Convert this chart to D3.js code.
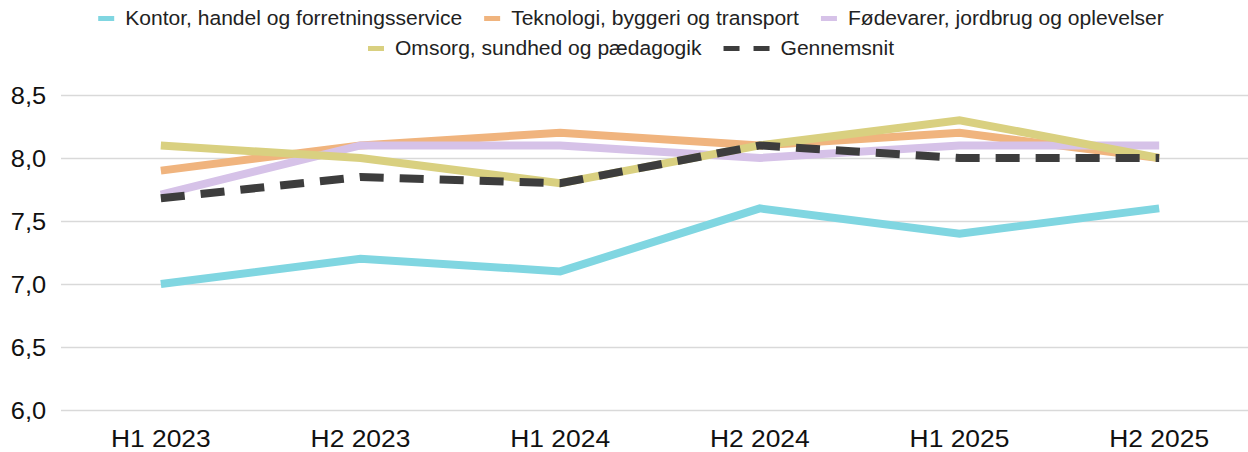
<!DOCTYPE html>
<html><head><meta charset="utf-8">
<script src="https://cdn.jsdelivr.net/npm/d3@7"></script>
<style>html,body{margin:0;padding:0;background:#fff;}svg{display:block;}</style>
</head><body>
<svg id="chart" width="1248" height="452"></svg>
<script>
const categories = ["H1 2023","H2 2023","H1 2024","H2 2024","H1 2025","H2 2025"];
const seriesNames = ["Kontor, handel og forretningsservice","Teknologi, byggeri og transport","Fødevarer, jordbrug og oplevelser","Omsorg, sundhed og pædagogik","Gennemsnit"];
const kontor = [7.0, 7.2, 7.1, 7.6, 7.4, 7.6];
const teknologi = [7.9, 8.1, 8.2, 8.1, 8.2, 8.0];
const foedevarer = [7.71, 8.1, 8.1, 8.0, 8.1, 8.1];
const omsorg = [8.1, 8.0, 7.8, 8.1, 8.3, 8.0];
const gennemsnit = [7.68, 7.85, 7.8, 8.1, 8.0, 8.0];
const yTicks = [6.0, 6.5, 7.0, 7.5, 8.0, 8.5];
const colors = ["#80d6e1","#f0b47e","#d6c2e8","#d9d080","#3d3d3d"];

const series = [kontor, teknologi, foedevarer, omsorg, gennemsnit].map((v,i)=>({name:seriesNames[i], values:v, color:colors[i], dashed:i===4}));

const svg = d3.select("#chart");
const font = "'Liberation Sans', Arial, sans-serif";
const x = d3.scaleBand().domain(categories).range([61, 1259]);
const xc = d => x(d) + x.bandwidth()/2;
const y = d3.scaleLinear().domain([6, 8.5]).range([410, 95]);

// gridlines
const yAxis = d3.axisLeft(y).tickValues(yTicks).tickSize(-(1248-61)).tickFormat(d => d3.format(".1f")(d).replace(".", ","));
const gy = svg.append("g").attr("transform","translate(61,0)").call(yAxis);
gy.select(".domain").remove();
gy.selectAll(".tick line").attr("stroke","#d9d9d9").attr("stroke-width",1.6);
gy.selectAll(".tick text").attr("x",-14).attr("dy","0.35em").attr("fill","#111")
  .style("font-family",font).style("font-size","24px").attr("transform","scale(1.06,1)");

// x axis labels
const xAxis = d3.axisBottom(x).tickSize(0);
const gx = svg.append("g").attr("transform","translate(0,410)").call(xAxis);
gx.select(".domain").remove();
gx.selectAll(".tick text").attr("y",37).attr("dy",0).attr("fill","#111")
  .style("font-family",font).style("font-size","24px").attr("transform","scale(1.1,1)");

// lines
const line = d3.line().x((d,i)=>xc(categories[i])).y(d=>y(d));
series.forEach(s=>{
  svg.append("path").datum(s.values).attr("d",line).attr("fill","none")
    .attr("stroke",s.color).attr("stroke-width",8)
    .attr("stroke-linejoin","miter").attr("stroke-linecap","butt")
    .attr("stroke-dasharray", s.dashed ? "24,16" : null);
});

// legend
const rows = [[0,1,2],[3,4]];
const rowY = [18.5, 48.5];
const centerX = 631;
const itemGap = 22;
const sx = 1.08;
rows.forEach((row,ri)=>{
  const g = svg.append("g");
  let cx = 0;
  row.forEach(si=>{
    const s = series[si];
    const sw = s.dashed ? 46 : 16;
    const it = g.append("g").attr("transform",`translate(${cx},0)`);
    if (s.dashed) {
      it.append("line").attr("x1",0).attr("x2",sw).attr("y1",rowY[ri]).attr("y2",rowY[ri])
        .attr("stroke",s.color).attr("stroke-width",5).attr("stroke-dasharray","16,14");
    } else {
      it.append("rect").attr("x",0).attr("y",rowY[ri]-2.5).attr("width",sw).attr("height",5).attr("fill",s.color);
    }
    const tg = it.append("g").attr("transform",`translate(${sw+11},${rowY[ri]}) scale(${sx},1)`);
    const t = tg.append("text").attr("x",0).attr("y",0).attr("dy","0.35em")
      .attr("fill","#222").style("font-family",font).style("font-size","19.5px").text(s.name);
    cx += sw + 11 + t.node().getComputedTextLength()*sx + itemGap;
  });
  const total = cx - itemGap;
  g.attr("transform",`translate(${centerX - total/2},0)`);
});
</script>
</body></html>
